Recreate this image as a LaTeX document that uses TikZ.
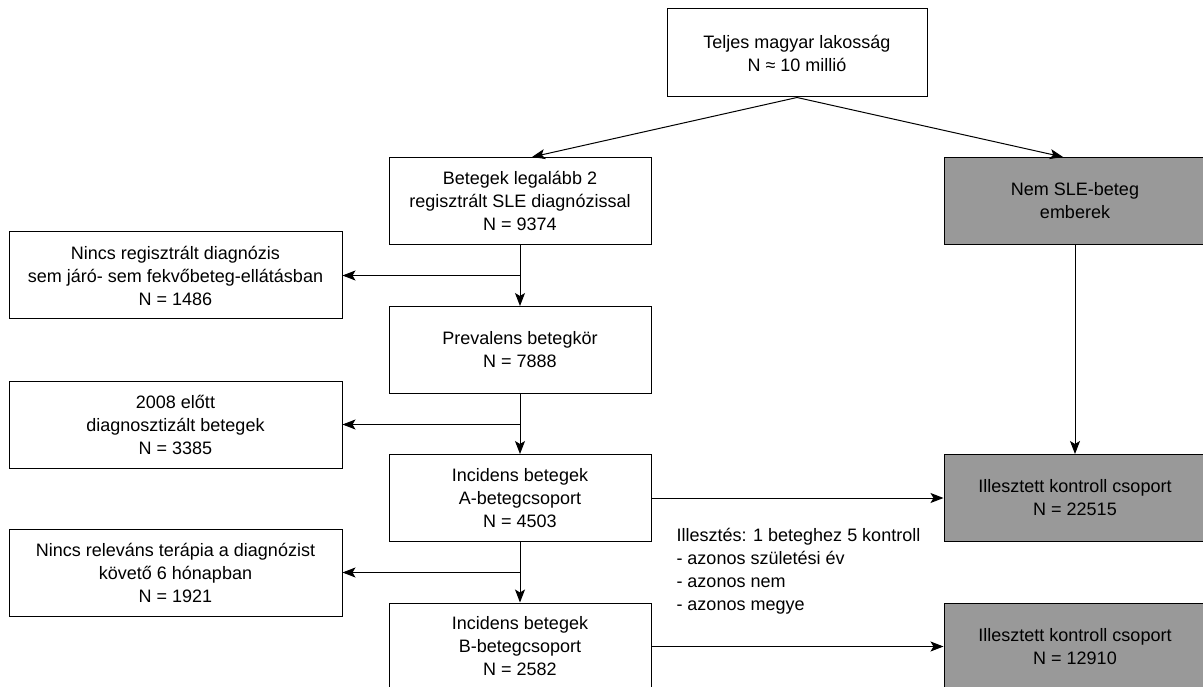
\documentclass[tikz,border=0pt]{standalone}
\usepackage{fontspec}
\setmainfont{Liberation Sans}
\usetikzlibrary{arrows.meta,positioning}
\definecolor{ctrlgray}{RGB}{153,153,153}

\begin{document}
\begin{tikzpicture}[
		x=1pt,y=-1pt,
		box/.style={
			draw,
			fill=white,
			align=center,
			minimum width=262pt,
			minimum height=87pt,
			inner sep=0
		},
		sidebox/.style={box,minimum width=333pt
		},
		ctrl/.style={box,fill=ctrlgray
		},
		note/.style={
			align=left,
			inner sep=0
		},
		font=\fontsize{18}{23}\selectfont,
		line width=1pt,
		>={Stealth[length=13pt,width=10pt,inset=3pt]}
		]
		\useasboundingbox (0,0) rectangle (1203,687);
		\node[box,minimum width=260pt,minimum height=88pt] (pop) at (797,53) {Teljes magyar lakosság\\N ≈ 10 millió};
		\node[box] (sle) at (520,201) {Betegek legalább 2\\regisztrált SLE diagnózissal\\N = 9374};
		\node[ctrl] (nonsle) at (1075,201) {Nem SLE-beteg\\emberek};
		\node[sidebox] (nodiag) at (175.5,275.5) {Nincs regisztrált diagnózis\\sem járó- sem fekvőbeteg-ellátásban\\N = 1486};
		\node[box] (preval) at (520,350) {Prevalens betegkör\\N = 7888};
		\node[sidebox] (before) at (175.5,424.5) {2008 előtt\\diagnosztizált betegek\\N = 3385};
		\node[box] (incA) at (520,498) {Incidens betegek\\A-betegcsoport\\N = 4503};
		\node[ctrl] (ctrlA) at (1075,498) {Illesztett kontroll csoport\\N = 22515};
		\node[sidebox] (notherapy) at (175.5,572.5) {Nincs releváns terápia a diagnózist\\követő 6 hónapban\\N = 1921};
		\node[box] (incB) at (520,646.5) {Incidens betegek\\B-betegcsoport\\N = 2582};
		\node[ctrl] (ctrlB) at (1075,646.5) {Illesztett kontroll csoport\\N = 12910};
		\node[note,anchor=west] (match) at (676,571.5) {Illesztés: 1 beteghez 5 kontroll\\- azonos születési év\\- azonos nem\\- azonos megye};
		% Population split
		\draw[->] (pop.south) -- ([xshift=12pt]sle.north);
		\draw[->] (pop.south) -- ([xshift=-12pt]nonsle.north);
		% Patient chain -> exclusions
		\foreach \ai/\aii/\aiii in {sle/preval/nodiag,preval/incA/before,incA/incB/notherapy}
			{
				\draw[->] (\ai.south) -- (\aii.north);
				\draw[->] (\ai.south |- \aiii.east) -- (\aiii.east);
			}
		% Controls
		\draw[->] (nonsle.south) -- (ctrlA.north);
		\foreach \ai/\aii in {incA/ctrlA,incB/ctrlB}
			\draw[->] (\ai.east) -- (\aii.west);
\end{tikzpicture}
\end{document}
